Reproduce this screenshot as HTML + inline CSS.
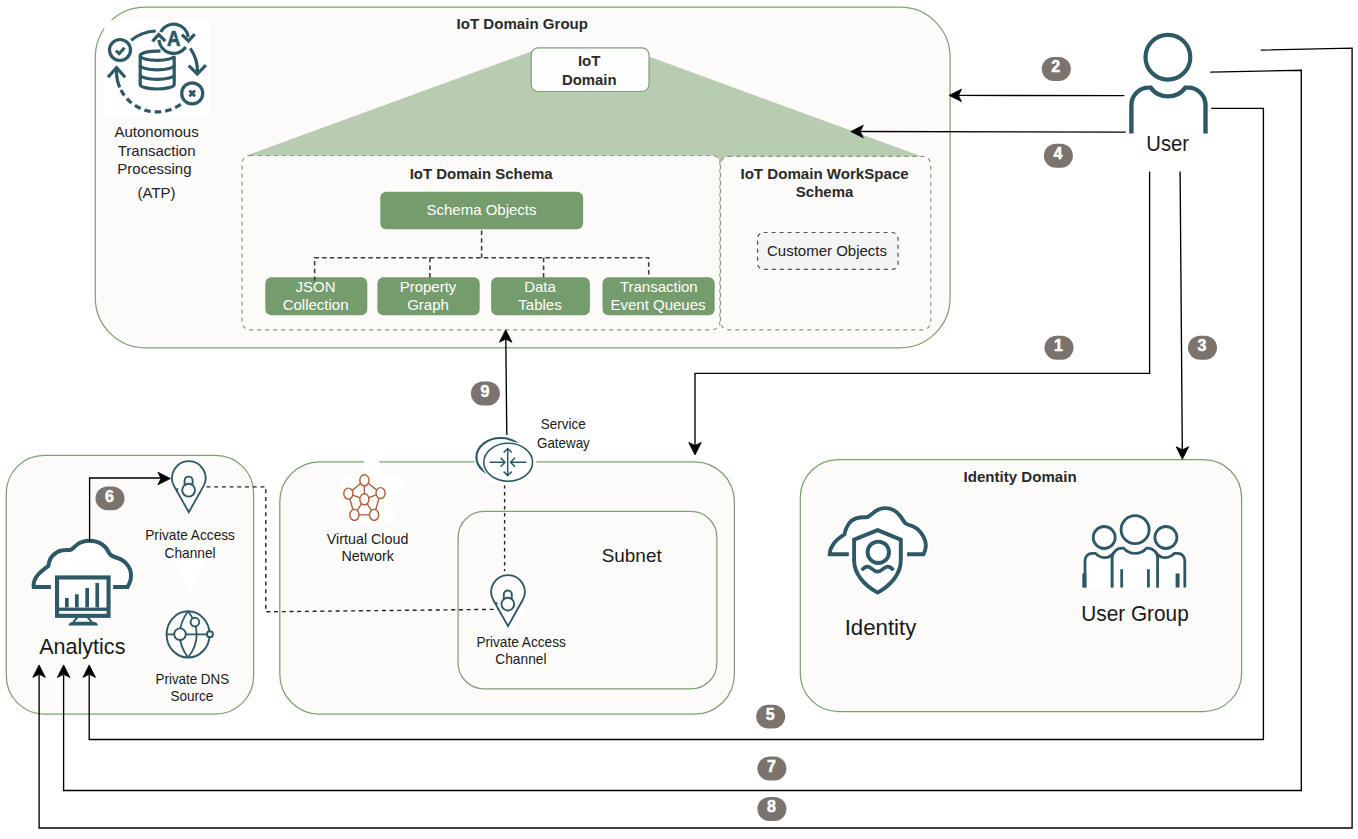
<!DOCTYPE html>
<html lang="en">
<head>
<meta charset="utf-8">
<title>IoT Domain Group architecture</title>
<style>
html,body{margin:0;padding:0;background:#fff;}
body{width:1358px;height:839px;overflow:hidden;font-family:"Liberation Sans",sans-serif;}
svg{display:block;}
.b{font-family:"Liberation Sans",sans-serif;font-weight:bold;font-size:15px;fill:#2a2a2a;}
.r{font-family:"Liberation Sans",sans-serif;font-size:15px;fill:#222;}
.w{font-family:"Liberation Sans",sans-serif;font-size:15px;fill:#fff;}
.o{font-family:"Liberation Sans",sans-serif;fill:#1a1a1a;}
.n{font-family:"Liberation Sans",sans-serif;font-weight:bold;font-size:16px;fill:#fff;stroke:#fff;stroke-width:0.5px;}
.box{fill:#fcfbfa;stroke:#7fa072;stroke-width:1.25;}
.ln{fill:none;stroke:#000;stroke-width:1.35;}
.ic{stroke:#2d5967;}
</style>
</head>
<body>
<svg width="1358" height="839" viewBox="0 0 1358 839" text-anchor="middle">
<rect width="1358" height="839" fill="#fff"/>

<!-- ===== IoT Domain Group ===== -->
<g id="iot-group">
<rect class="box" x="95.3" y="7.2" width="854.8" height="340.6" rx="50" ry="50"/>
<text class="b" x="522.3" y="28.7" textLength="131.4" lengthAdjust="spacingAndGlyphs">IoT Domain Group</text>
<polygon points="247,155.3 540.5,48 625.8,48 921.4,156.3 918,162 250,162" fill="#b8ccb1"/>
<rect x="531.2" y="47.9" width="117.8" height="43.6" rx="7" fill="#fefefe" stroke="#7fa072" stroke-width="1.2"/>
<text class="b" x="589.2" y="66.3">IoT</text>
<text class="b" x="589.2" y="84.6" textLength="54.6" lengthAdjust="spacingAndGlyphs">Domain</text>
</g>

<!-- ===== Schema ===== -->
<g id="schema">
<rect x="242" y="155.5" width="478" height="174.3" rx="8" fill="#fcfbfa" stroke="#7fa072" stroke-width="1.2" stroke-dasharray="4 4"/>
<rect x="720.5" y="156.4" width="210.2" height="173.4" rx="8" fill="#fcfbfa" stroke="#7fa072" stroke-width="1.2" stroke-dasharray="4 4"/>
<text class="b" x="481.2" y="179.2" textLength="143" lengthAdjust="spacingAndGlyphs">IoT Domain Schema</text>
<text class="b" x="824.6" y="179.2" textLength="168.3" lengthAdjust="spacingAndGlyphs">IoT Domain WorkSpace</text>
<text class="b" x="824.6" y="197">Schema</text>
<rect x="380.3" y="191.7" width="202.8" height="37.6" rx="6" fill="#759c6c"/>
<text class="w" x="481.5" y="214.6">Schema Objects</text>
<rect x="265.3" y="277.3" width="102" height="37.9" rx="6" fill="#759c6c"/>
<rect x="377.4" y="277.3" width="102.3" height="37.9" rx="6" fill="#759c6c"/>
<rect x="491.1" y="277.3" width="98.8" height="37.9" rx="6" fill="#759c6c"/>
<rect x="602.5" y="277.3" width="112.2" height="37.9" rx="6" fill="#759c6c"/>
<path id="dashtree" d="M481.6 230.5v27.2M314.6 281v-23.3h334.1v19.8M429.9 257.7v23.3M543.6 257.7v23.3" fill="none" stroke="#3a3a3a" stroke-width="1.55" stroke-dasharray="4.5 3.2"/>
<text class="w" x="315.6" y="292">JSON</text><text class="w" x="315.6" y="310">Collection</text>
<text class="w" x="428" y="292">Property</text><text class="w" x="428" y="310">Graph</text>
<text class="w" x="540" y="292">Data</text><text class="w" x="540" y="310">Tables</text>
<text class="w" x="658.8" y="292">Transaction</text><text class="w" x="658" y="310">Event Queues</text>
<rect x="757.6" y="232.5" width="140.5" height="36.9" rx="6" fill="#f3f4f4" stroke="#555" stroke-width="1.2" stroke-dasharray="4 4"/>
<text class="r" x="827" y="256">Customer Objects</text>
</g>

<!-- ===== ATP icon ===== -->
<g id="atp">
<rect x="104.3" y="20.3" width="105.8" height="96.9" fill="#fff"/>
<g class="ic" fill="none" stroke-width="3.2">
<circle cx="120" cy="50" r="10.5"/>
<path d="M116 50.6l3.3 3 5.2-5.9" stroke-width="3"/>
<circle cx="192.2" cy="93.4" r="10.5"/>
<path d="M189.4 90.6l5.6 5.6M195 90.6l-5.6 5.6" stroke-width="2.8"/>
<path d="M131.2 40.3A40.5 40.5 0 0 1 155.8 31"/>
<path d="M190.3 48.4A40.5 40.5 0 0 1 197.5 72.9"/>
<path d="M188.7 65.6l8.6 8.4 8.6-8.8"/>
<path d="M116.7 67.3A40.5 40.5 0 0 0 119.7 87.3"/>
<path d="M108 77.2l8.5-9.6 8.6 9.6"/>
<path d="M119.7 87.3A40.5 40.5 0 0 0 181.9 103.4" stroke-dasharray="6.5 4" stroke-dashoffset="-3"/>
<path d="M160.6 31.9A14.8 14.8 0 0 1 188.3 37"/>
<path d="M181.9 34.6l6.6 6.4 6.2-6.8"/>
<path d="M185.8 47A14.8 14.8 0 0 1 158.9 40"/>
<path d="M152.4 41.4l6.3-6.8 6.6 6.6"/>
<path d="M160.5 51.2A17 4.5 0 0 0 140.2 55.7V84.4A17 4.6 0 0 0 174.2 84.4V57"/>
<path d="M140.2 65.2A17 4.6 0 0 0 174.2 65.2M140.2 74.8A17 4.6 0 0 0 174.2 74.8M140.2 55.7A17 4.6 0 0 0 174.2 55.7"/>
</g>
<text x="173.6" y="46.4" font-family="Liberation Sans, sans-serif" font-weight="bold" font-size="22" fill="#2d5967" stroke="#2d5967" stroke-width="0.7" textLength="13.4" lengthAdjust="spacingAndGlyphs">A</text>
<text class="r" x="156.6" y="137">Autonomous</text>
<text class="r" x="156.6" y="155.9">Transaction</text>
<text class="r" x="154.4" y="173.7">Processing</text>
<text class="r" x="156.6" y="198.2">(ATP)</text>
</g>

<!-- ===== Analytics group ===== -->
<g id="analytics-box">
<rect class="box" x="6.3" y="455.3" width="247.3" height="258.7" rx="38" ry="38"/>
<path d="M190 592.8L172.7 555.4A19 19 0 1 1 207.3 555.4Z" fill="#fff"/>
<!-- cloud + monitor -->
<path class="ic" stroke-width="4" fill="#fff" d="M50.9 587.1H33.7C33 582 35.5 577.5 38.4 574.2C41.5 570.8 45.5 568 48.4 565.9C49 561 50.5 557.5 53.4 555C56 552.3 59 550.8 61.7 550.4C65 549.8 68 550.2 70.9 549.7C73 548.5 74.5 546.6 76.7 545C80 542.3 84.5 540.8 89.2 540.8C94 540.8 98.5 542 101.8 544.2C105.5 546.6 107.8 550 109.3 553.4C111 556 113.5 556.8 115.9 557.5C120.5 558.8 124.3 561 126.8 564.2C129.5 567.3 131 571 131 575C131.2 578 130.6 580.8 129.3 583.4L127.6 587.1H113.1"/>
<rect x="57.05" y="577.45" width="51.5" height="38.4" fill="#fff" stroke="#2d5967" stroke-width="4.1"/>
<rect x="57" y="607.6" width="51.6" height="3.3" fill="#2d5967"/>
<path d="M65 607.6V598.1h3.7V607.6zM75 607.6V594.2h3.7V607.6zM85.3 607.6V588.1h3.7V607.6zM95.4 607.6V583.1h3.7V607.6z" fill="#2d5967"/>
<path d="M77.3 617.5l-4 4.6M87.8 617.5l4 4.6" class="ic" fill="none" stroke-width="2"/>
<path d="M68.4 625.6c0.5-2.5 2.5-3.8 5-3.8h19.7c2.5 0 4.5 1.3 5 3.8z" fill="#2d5967"/>
<text class="o" x="82.3" y="653.5" font-size="21.2" textLength="86.3" lengthAdjust="spacingAndGlyphs">Analytics</text>
</g>
<g id="pac1">
<path class="ic" stroke-width="1.85" fill="#fcfbfa" d="M188.8 512.2L174.1 486.1A16.8 16.8 0 1 1 203.5 486.1Z"/>
<circle class="ic" fill="none" cx="188.6" cy="490.2" r="6.4" stroke-width="1.9"/>
<path class="ic" fill="none" stroke-width="1.9" d="M184.6 484.8V480.6a4 4 0 0 1 8 0V484.8"/>
<path class="ic" fill="none" stroke-width="2.2" d="M177.4 488.4l-0.5 2.8"/>
<text class="o" x="190.1" y="539.6" font-size="14.8" textLength="89.7" lengthAdjust="spacingAndGlyphs">Private Access</text>
<text class="o" x="190.1" y="558.2" font-size="14.8" textLength="51" lengthAdjust="spacingAndGlyphs">Channel</text>
</g>
<g id="dns">
<ellipse class="ic" fill="none" cx="188.1" cy="634.4" rx="21.5" ry="23.1" stroke-width="1.9"/>
<path class="ic" fill="none" stroke-width="1.8" d="M188.1 611.3C177 626 177 643 188.1 657.5M188.1 611.3C199.5 626 199.5 643 188.1 657.5M166.6 634.3H207"/>
<circle class="ic" cx="180" cy="634.2" r="5.8" stroke-width="1.9" fill="#fcfbfa"/>
<circle class="ic" cx="194.9" cy="622.1" r="4.3" stroke-width="1.9" fill="#fcfbfa"/>
<circle class="ic" cx="209.9" cy="634.2" r="3" stroke-width="1.9" fill="#fcfbfa"/>
<text class="o" x="192.3" y="684" font-size="14.8" textLength="73.5" lengthAdjust="spacingAndGlyphs">Private DNS</text>
<text class="o" x="191.9" y="700.9" font-size="14.8" textLength="42.8" lengthAdjust="spacingAndGlyphs">Source</text>
</g>

<!-- ===== VCN ===== -->
<g id="vcn">
<rect class="box" x="279.8" y="461.8" width="454.6" height="252.4" rx="40" ry="40"/>
<rect class="box" x="458.1" y="511.4" width="258.8" height="177.5" rx="26" ry="26"/>

<g id="vcn-ghost" fill="#fff" stroke="#fff" stroke-width="3">
<path d="M371.7 466.4L395.5 484.6L386 514.1H358.4L349.8 482.6Z" fill="#fff"/>
<circle cx="371.7" cy="466.4" r="7.6"/><circle cx="395.5" cy="484.6" r="7.6"/><circle cx="386" cy="514.1" r="7.6"/><circle cx="358.4" cy="516" r="7.6"/><circle cx="349.8" cy="482.6" r="7.6"/>
</g>
<g id="vcn-icon" fill="#fff" stroke="#ac5f38" stroke-width="1.4">
<path fill="none" d="M364.4 480.3L348.4 493.6L354.4 514.9H374.1L380.6 493.1ZM364.4 499.3V480.3M364.4 499.3L348.4 493.6M364.4 499.3L380.6 493.1M364.4 499.3L354.4 514.9M364.4 499.3L374.1 514.9"/>
<ellipse cx="364.4" cy="480.3" rx="4.6" ry="5.5"/>
<ellipse cx="348.4" cy="493.6" rx="4.6" ry="5.5"/>
<ellipse cx="380.6" cy="493.1" rx="4.6" ry="5.5"/>
<ellipse cx="364.4" cy="499.3" rx="4.6" ry="5.5"/>
<ellipse cx="354.4" cy="514.9" rx="4.6" ry="5.5"/>
<ellipse cx="374.1" cy="514.9" rx="4.6" ry="5.5"/>
</g>
<g id="pac2">
<path fill="#fff" stroke="#fff" stroke-width="2" d="M510.5 633.1L495.8 607.0A16.8 16.8 0 1 1 525.2 607.0Z"/>
<path class="ic" stroke-width="1.85" fill="#fcfbfa" d="M508.0 626.1L493.3 600.0A16.8 16.8 0 1 1 522.7 600.0Z"/>
<circle class="ic" fill="none" cx="507.8" cy="604.1" r="6.4" stroke-width="1.9"/>
<path class="ic" fill="none" stroke-width="1.9" d="M503.8 598.7V594.5a4 4 0 0 1 8 0V598.7"/>
<path class="ic" fill="none" stroke-width="2.2" d="M496.6 602.3l-0.5 2.8"/>
<text class="o" x="521.1" y="646.5" font-size="14.8" textLength="89.4" lengthAdjust="spacingAndGlyphs">Private Access</text>
<text class="o" x="520.9" y="664.4" font-size="14.8" textLength="51.2" lengthAdjust="spacingAndGlyphs">Channel</text>
</g>
<text class="o" x="367.6" y="543.6" font-size="14.8" textLength="81.5" lengthAdjust="spacingAndGlyphs">Virtual Cloud</text>
<text class="o" x="367.6" y="560.6" font-size="14.8" textLength="52.4" lengthAdjust="spacingAndGlyphs">Network</text>
<text class="o" x="631.7" y="562.2" font-size="19.2" textLength="60" lengthAdjust="spacingAndGlyphs">Subnet</text>
<text class="o" x="563.2" y="428.6" font-size="14.8" textLength="44.9" lengthAdjust="spacingAndGlyphs">Service</text>
<text class="o" x="563.4" y="447.5" font-size="14.8" textLength="52.7" lengthAdjust="spacingAndGlyphs">Gateway</text>
</g>

<!-- ===== Identity Domain ===== -->
<g id="identity">
<rect class="box" x="800.3" y="459.6" width="441.3" height="251.9" rx="38" ry="38"/>
<text class="b" x="1020.1" y="481.8" textLength="113" lengthAdjust="spacingAndGlyphs">Identity Domain</text>

<g id="identity-icon">
<path d="M829.7 554.2C829.8 551.5 830.4 549.3 831.4 547.4C832.8 544.4 834.8 541.8 837.3 539.6C839.5 537.6 842 535.8 844.5 534.3C844.8 531.8 845.5 529.7 846.5 527.8C847.8 525 849.5 522.5 851.7 520.6C854 518.8 856.8 517.8 859.6 517.5C862.2 517.1 864.8 517.4 867.4 517C869.3 516 870.9 514.6 872.7 513.3C874.7 511.7 876.8 510.2 879.2 509.2C881.3 508.4 883.5 508.1 885.8 508.1C888.5 508.1 891.2 508.8 893.6 510.1C896.3 511.5 898.5 513.6 900.2 516C902 518.3 903.3 521.2 905.4 523.2C907.6 524.9 910.7 525.3 913.3 526.5C916.5 528 919.2 530.2 921.1 533C922.9 535.3 924.3 538 925.1 540.9C925.8 543 925.9 545.2 925.7 547.4C925.5 549.8 924.6 552 923.5 554.2Z" fill="#fff" stroke="#fff" stroke-width="7"/>
<path class="ic" stroke-width="3.9" fill="#fff" d="M848.8 554.2H829.7C829.8 551.5 830.4 549.3 831.4 547.4C832.8 544.4 834.8 541.8 837.3 539.6C839.5 537.6 842 535.8 844.5 534.3C844.8 531.8 845.5 529.7 846.5 527.8C847.8 525 849.5 522.5 851.7 520.6C854 518.8 856.8 517.8 859.6 517.5C862.2 517.1 864.8 517.4 867.4 517C869.3 516 870.9 514.6 872.7 513.3C874.7 511.7 876.8 510.2 879.2 509.2C881.3 508.4 883.5 508.1 885.8 508.1C888.5 508.1 891.2 508.8 893.6 510.1C896.3 511.5 898.5 513.6 900.2 516C902 518.3 903.3 521.2 905.4 523.2C907.6 524.9 910.7 525.3 913.3 526.5C916.5 528 919.2 530.2 921.1 533C922.9 535.3 924.3 538 925.1 540.9C925.8 543 925.9 545.2 925.7 547.4C925.5 549.8 924.6 552 923.5 554.2H907.1"/>
<path d="M877.6 530.1L900.8 539.6V560.5C900.8 574 890.5 585.5 877.6 592.6C864.6 585.5 854.1 574 854.1 560.5V539.6Z" fill="#fff" stroke="#fff" stroke-width="8"/>
<path class="ic" stroke-width="3.9" fill="#fff" d="M877.6 530.1L900.8 539.6V560.5C900.8 574 890.5 585.5 877.6 592.6C864.6 585.5 854.1 574 854.1 560.5V539.6Z"/>
<circle class="ic" fill="none" cx="878.3" cy="552.3" r="10.7" stroke-width="3.9"/>
<path class="ic" fill="none" stroke-width="3.6" d="M861.8 570.3C863.5 568 865.2 566.6 867.5 566.6C871.5 566.6 872.8 571.6 877.6 571.6C882.4 571.6 883.7 566.6 887.7 566.6C890 566.6 891.7 568 893.4 570.3"/>
</g>
<g id="usergroup-icon">
<g class="ic" stroke-width="2.8" fill="#fff">
<path d="M1085 587.6V560.4A7 7 0 0 1 1092 553.4H1095.5C1100.5 558.8 1107.9 558.8 1112.2 554.5V587.6"/>
<path d="M1184.8 587.6V560.4A7 7 0 0 0 1177.8 553.4H1174.3C1169.3 558.8 1161.9 558.8 1157.6 554.5V587.6"/>
<path d="M1112.2 587.6V558A10 10 0 0 1 1122.2 548.1H1123.6C1129.5 555.2 1140.7 555.2 1146.6 548.1H1147.7A10 10 0 0 1 1157.6 558V587.6"/>
<circle cx="1104.2" cy="537.5" r="11"/>
<circle cx="1165.9" cy="537.5" r="11"/>
<circle cx="1135.1" cy="529.7" r="14"/>
<path d="M1121.7 569.2V587.6M1148.4 569.2V587.6"/>
</g>
<path class="ic" fill="none" stroke-width="4" d="M1084.3 573.4V587.6M1177.6 573.4V587.6"/>
</g>
<text class="o" x="880.5" y="635" font-size="21.2" textLength="71.7" lengthAdjust="spacingAndGlyphs">Identity</text>
<text class="o" x="1135" y="620.6" font-size="21.2" textLength="107.5" lengthAdjust="spacingAndGlyphs">User Group</text>
</g>

<!-- ===== User + connectors ===== -->
<defs>
<path id="ah" d="M-0.9 0L-13.4 -6.3L-10.3 0L-13.4 6.3Z" fill="#000" stroke="#000" stroke-width="0.8" stroke-linejoin="miter"/>
</defs>
<g id="user">
<circle class="ic" fill="none" cx="1167.9" cy="57.2" r="22.4" stroke-width="4.2"/>
<path class="ic" fill="none" stroke-width="4.4" d="M1131.4 133.5V105A17.4 17.4 0 0 1 1148.8 87.6H1150.6A21.6 21.6 0 0 0 1185.4 87.6H1188.1A17.4 17.4 0 0 1 1205.5 105V133.5"/>
<text class="o" x="1167.7" y="150.6" font-size="21.2" textLength="42.7" lengthAdjust="spacingAndGlyphs">User</text>
</g>
<g id="connectors">
<path class="ln" d="M1124.4 95.7L958 95.4"/>
<use href="#ah" transform="translate(948.2 95.4) rotate(180)"/>
<path class="ln" d="M1125.7 132.1L860 131.5"/>
<use href="#ah" transform="translate(849.9 131.5) rotate(180)"/>
<path class="ln" d="M1149.6 171.6V373.4H695V446"/>
<use href="#ah" transform="translate(695 455.8) rotate(90)"/>
<path class="ln" d="M1180.1 171.6L1182.3 450"/>
<use href="#ah" transform="translate(1182.4 460.1) rotate(90)"/>
<path class="ln" d="M1211.2 108.3H1263.4V739.5H89.2V675"/>
<use href="#ah" transform="translate(89.2 664) rotate(-90)"/>
<path class="ln" d="M1210.2 72.1L1301.3 70.3V790.5H63.6V675"/>
<use href="#ah" transform="translate(63.6 664) rotate(-90)"/>
<path class="ln" d="M1260.8 50.1L1352.1 48.2V828H39.1V675"/>
<use href="#ah" transform="translate(39.1 664) rotate(-90)"/>
<path class="ln" d="M89.6 541.7V478H161"/>
<use href="#ah" transform="translate(171.3 478.5)"/>
<path d="M206.5 486.9H265.8V611.8L498.3 609.3" fill="none" stroke="#222" stroke-width="1.4" stroke-dasharray="4 3.7"/>
<path d="M504.6 485V571.2" fill="none" stroke="#222" stroke-width="1.4" stroke-dasharray="3.5 3.5"/>
<path class="ln" stroke-width="1.5" d="M506.8 435L505.8 339"/>
<use href="#ah" transform="translate(505.7 328.8) rotate(-90)"/>
<g id="gateway">
<ellipse cx="505.5" cy="461" rx="31" ry="24.5" fill="#fff"/>
<ellipse class="ic" cx="500.8" cy="457.2" rx="24.4" ry="19.2" stroke-width="2.2" fill="#fff"/>
<ellipse cx="508.2" cy="462.2" rx="26.6" ry="21" fill="#fff"/>
<ellipse class="ic" cx="508.2" cy="462.2" rx="24.4" ry="19" stroke-width="1.6" fill="#fff"/>
<path class="ic" fill="none" stroke-width="1.5" d="M489.6 462.2H505M500.5 457.7L505 462.2L500.5 466.7M526.4 462.2H510.5M515 457.7L510.5 462.2L515 466.7M507.7 448.5V475.6M503.7 452.5L507.7 448.5L511.7 452.5M503.7 471.6L507.7 475.6L511.7 471.6"/>
</g>
</g>
<g id="badges">
<rect x="1041.8" y="57.10" width="29" height="23.9" rx="12" fill="#7a736e"/><text class="n" x="1055.8" y="72.2">2</text>
<rect x="1043.9" y="143.75" width="29" height="23.9" rx="12" fill="#7a736e"/><text class="n" x="1057.9" y="158.9">4</text>
<rect x="1044.5" y="335.85" width="29" height="23.9" rx="12" fill="#7a736e"/><text class="n" x="1058.5" y="351.0">1</text>
<rect x="1188.0" y="335.85" width="29" height="23.9" rx="12" fill="#7a736e"/><text class="n" x="1202.0" y="351.0">3</text>
<rect x="470.9" y="381.55" width="29" height="23.9" rx="12" fill="#7a736e"/><text class="n" x="484.9" y="396.7">9</text>
<rect x="95.5" y="486.45" width="29" height="23.9" rx="12" fill="#7a736e"/><text class="n" x="109.5" y="501.6">6</text>
<rect x="756.2" y="704.65" width="29" height="23.9" rx="12" fill="#7a736e"/><text class="n" x="770.2" y="719.8">5</text>
<rect x="757.4" y="756.55" width="29" height="23.9" rx="12" fill="#7a736e"/><text class="n" x="771.4" y="771.7">7</text>
<rect x="757.4" y="797.05" width="29" height="23.9" rx="12" fill="#7a736e"/><text class="n" x="771.4" y="812.2">8</text>
</g>

</svg>
</body>
</html>
